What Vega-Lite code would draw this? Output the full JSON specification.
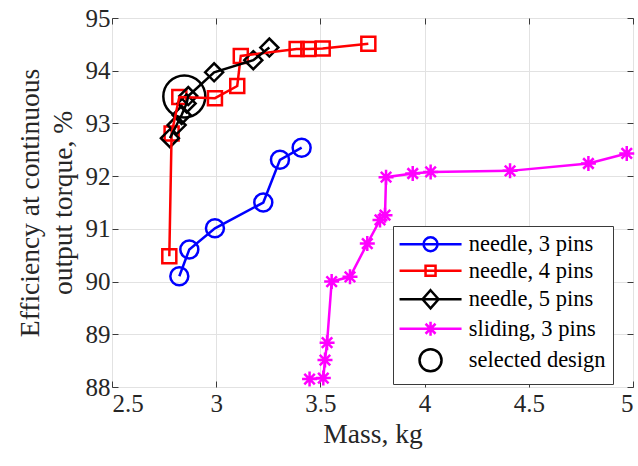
{
  "$schema": "https://vega.github.io/schema/vega-lite/v6.json",
  "width": 521,
  "height": 369,
  "autosize": {"type": "none"},
  "padding": {"left": 112, "top": 18, "right": 5, "bottom": 79},
  "background": "white",
  "config": {
    "font": "Liberation Serif",
    "view": {"stroke": "#3a3a3a", "strokeWidth": 1},
    "axis": {
      "labelFont": "Liberation Serif",
      "labelFontSize": 25,
      "labelColor": "#262626",
      "titleFont": "Liberation Serif",
      "titleFontSize": 27.5,
      "titleFontWeight": "normal",
      "titleColor": "#262626",
      "domain": false,
      "tickColor": "#3a3a3a",
      "tickSize": -6,
      "tickWidth": 1,
      "gridColor": "#e2e2e2",
      "gridWidth": 1
    },
    "legend": {
      "title": null,
      "orient": "none",
      "legendX": 281,
      "legendY": 208,
      "fillColor": "white",
      "strokeColor": "#3a3a3a",
      "padding": 7,
      "rowPadding": 2.5,
      "labelFont": "Liberation Serif",
      "labelFontSize": 22.5,
      "labelColor": "#000000",
      "labelOffset": 27,
      "symbolSize": 4,
      "symbolStrokeWidth": 2.5,
      "symbolOpacity": 1,
      "symbolOffset": 19.3
    }
  },
  "datasets": {
    "designs": [
      {"series": "needle, 3 pins", "i": 1, "mass": 2.823, "eff": 90.10},
      {"series": "needle, 3 pins", "i": 2, "mass": 2.871, "eff": 90.61},
      {"series": "needle, 3 pins", "i": 3, "mass": 2.994, "eff": 91.01},
      {"series": "needle, 3 pins", "i": 4, "mass": 3.226, "eff": 91.50},
      {"series": "needle, 3 pins", "i": 5, "mass": 3.306, "eff": 92.31},
      {"series": "needle, 3 pins", "i": 6, "mass": 3.410, "eff": 92.54},
      {"series": "needle, 4 pins", "i": 1, "mass": 2.775, "eff": 90.48},
      {"series": "needle, 4 pins", "i": 2, "mass": 2.786, "eff": 92.81},
      {"series": "needle, 4 pins", "i": 3, "mass": 2.823, "eff": 93.50},
      {"series": "needle, 4 pins", "i": 4, "mass": 2.994, "eff": 93.48},
      {"series": "needle, 4 pins", "i": 5, "mass": 3.101, "eff": 93.71},
      {"series": "needle, 4 pins", "i": 6, "mass": 3.118, "eff": 94.28},
      {"series": "needle, 4 pins", "i": 7, "mass": 3.386, "eff": 94.41},
      {"series": "needle, 4 pins", "i": 8, "mass": 3.442, "eff": 94.41},
      {"series": "needle, 4 pins", "i": 9, "mass": 3.511, "eff": 94.42},
      {"series": "needle, 4 pins", "i": 10, "mass": 3.730, "eff": 94.51},
      {"series": "needle, 5 pins", "i": 1, "mass": 2.778, "eff": 92.72},
      {"series": "needle, 5 pins", "i": 2, "mass": 2.810, "eff": 92.97},
      {"series": "needle, 5 pins", "i": 3, "mass": 2.834, "eff": 93.16},
      {"series": "needle, 5 pins", "i": 4, "mass": 2.858, "eff": 93.38},
      {"series": "needle, 5 pins", "i": 5, "mass": 2.866, "eff": 93.52},
      {"series": "needle, 5 pins", "i": 6, "mass": 2.990, "eff": 93.97},
      {"series": "needle, 5 pins", "i": 7, "mass": 3.178, "eff": 94.20},
      {"series": "needle, 5 pins", "i": 8, "mass": 3.255, "eff": 94.44},
      {"series": "sliding, 3 pins", "i": 1, "mass": 3.448, "eff": 88.15},
      {"series": "sliding, 3 pins", "i": 2, "mass": 3.514, "eff": 88.17},
      {"series": "sliding, 3 pins", "i": 3, "mass": 3.522, "eff": 88.51},
      {"series": "sliding, 3 pins", "i": 4, "mass": 3.532, "eff": 88.84},
      {"series": "sliding, 3 pins", "i": 5, "mass": 3.554, "eff": 90.00},
      {"series": "sliding, 3 pins", "i": 6, "mass": 3.642, "eff": 90.09},
      {"series": "sliding, 3 pins", "i": 7, "mass": 3.725, "eff": 90.72},
      {"series": "sliding, 3 pins", "i": 8, "mass": 3.786, "eff": 91.17},
      {"series": "sliding, 3 pins", "i": 9, "mass": 3.810, "eff": 91.26},
      {"series": "sliding, 3 pins", "i": 10, "mass": 3.815, "eff": 91.98},
      {"series": "sliding, 3 pins", "i": 11, "mass": 3.943, "eff": 92.05},
      {"series": "sliding, 3 pins", "i": 12, "mass": 4.029, "eff": 92.08},
      {"series": "sliding, 3 pins", "i": 13, "mass": 4.410, "eff": 92.10},
      {"series": "sliding, 3 pins", "i": 14, "mass": 4.786, "eff": 92.24},
      {"series": "sliding, 3 pins", "i": 15, "mass": 4.970, "eff": 92.43},
      {"series": "selected design", "i": 1, "mass": 2.847, "eff": 93.51}
    ]
  },
  "data": {"name": "designs"},
  "layer": [
    {
      "mark": {"type": "point", "filled": false, "strokeWidth": 2.5, "opacity": 1},
      "encoding": {
        "x": {
          "field": "mass", "type": "quantitative",
          "scale": {"domain": [2.5, 5], "nice": false, "zero": false},
          "axis": {
            "orient": "bottom", "values": [2.5, 3, 3.5, 4, 4.5, 5], "format": "~g",
            "title": "Mass, kg", "grid": true, "labelPadding": 10, "titlePadding": 4
          }
        },
        "y": {
          "field": "eff", "type": "quantitative",
          "scale": {"domain": [88, 95], "nice": false, "zero": false},
          "axis": {
            "orient": "left", "values": [88, 89, 90, 91, 92, 93, 94, 95], "format": "d",
            "title": ["Efficiency at continuous", "output torque, %"],
            "titleLineHeight": 33, "grid": true, "labelPadding": 8, "titlePadding": 8
          }
        },
        "color": {
          "field": "series", "type": "nominal",
          "scale": {
            "domain": ["needle, 3 pins", "needle, 4 pins", "needle, 5 pins", "sliding, 3 pins", "selected design"],
            "range": ["#0000ff", "#ff0000", "#000000", "#ff00ff", "#000000"]
          }
        },
        "shape": {
          "condition": [
            {"test": "datum.series === 'needle, 4 pins'", "value": "square"},
            {"test": "datum.series === 'needle, 5 pins'", "value": "diamond"},
            {"test": "datum.series === 'sliding, 3 pins'", "value": "M-1,0L1,0M0,-1L0,1M-0.7,-0.7L0.7,0.7M-0.7,0.7L0.7,-0.7"}
          ],
          "value": "circle"
        },
        "size": {
          "condition": [
            {"test": "datum.series === 'selected design'", "value": 1764},
            {"test": "datum.series === 'needle, 4 pins'", "value": 196},
            {"test": "datum.series === 'sliding, 3 pins'", "value": 225}
          ],
          "value": 324
        }
      }
    },
    {
      "transform": [{"filter": "datum.series !== 'selected design'"}],
      "mark": {"type": "line", "strokeWidth": 2.5},
      "encoding": {
        "x": {"field": "mass", "type": "quantitative", "axis": null},
        "y": {"field": "eff", "type": "quantitative", "axis": null},
        "color": {"field": "series", "type": "nominal"},
        "order": {"field": "i", "type": "quantitative"}
      }
    },
    {
      "description": "Legend keys: a line segment with the series marker on it",
      "transform": [{"filter": "false"}],
      "mark": {"type": "point", "filled": false, "strokeWidth": 2.5, "opacity": 1},
      "encoding": {
        "x": {
          "field": "mass", "type": "quantitative",
          "axis": {"orient": "top", "values": [2.5, 3, 3.5, 4, 4.5, 5], "labels": false, "title": null, "grid": false}
        },
        "y": {
          "field": "eff", "type": "quantitative",
          "axis": {"orient": "right", "values": [88, 89, 90, 91, 92, 93, 94, 95], "labels": false, "title": null, "grid": false}
        },
        "color": {"field": "series", "type": "nominal", "legend": {"symbolOpacity": 1}},
        "shape": {
          "field": "series", "type": "nominal",
          "scale": {
            "domain": ["needle, 3 pins", "needle, 4 pins", "needle, 5 pins", "sliding, 3 pins", "selected design"],
            "range": [
              "M-31,0H31M-7,0A7,7 0 1,0 7,0A7,7 0 1,0 -7,0",
              "M-31,0H31M-5,-5H5V5H-5Z",
              "M-31,0H31M0,-9L8,0L0,9L-8,0Z",
              "M-31,0H31M-7,0H7M0,-7V7M-5,-5L5,5M-5,5L5,-5",
              "M-11,0A11,11 0 1,0 11,0A11,11 0 1,0 -11,0"
            ]
          },
          "legend": {"symbolOpacity": 1}
        },
        "size": {"value": 4}
      }
    }
  ],
  "resolve": {"axis": {"x": "independent", "y": "independent"}}
}
